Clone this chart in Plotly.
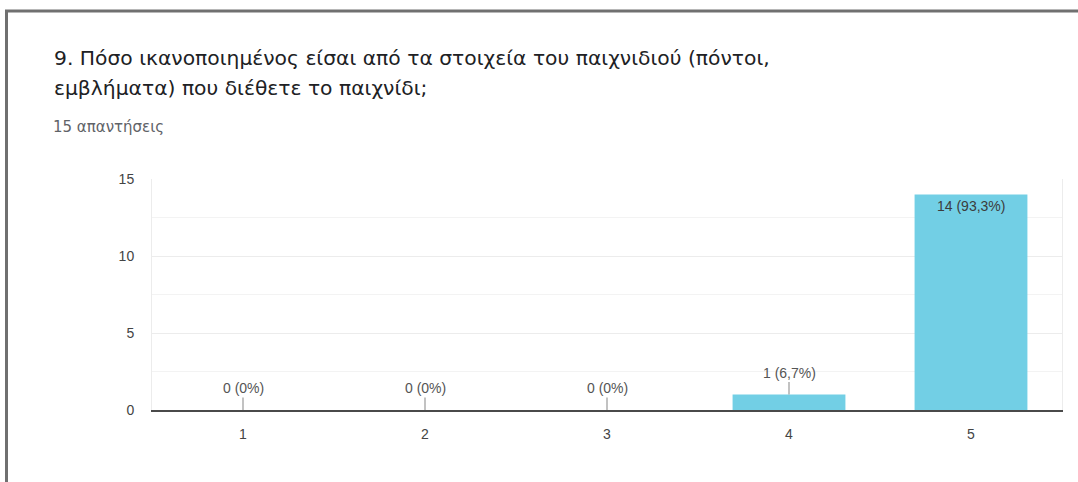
import plotly.graph_objects as go

categories = ["1", "2", "3", "4", "5"]
counts = [0, 0, 0, 1, 14]
labels = ["0 (0%)", "0 (0%)", "0 (0%)", "1 (6,7%)", "14 (93,3%)"]
title_line1 = "9. Πόσο ικανοποιημένος είσαι από τα στοιχεία του παιχνιδιού (πόντοι,"
title_line2 = "εμβλήματα) που διέθετε το παιχνίδι;"
subtitle = "15 απαντήσεις"
y_ticks = [0, 5, 10, 15]

W, H = 1078, 482
ML, MR, MT, MB = 152, 16, 179, 72
PW = W - ML - MR
PH = H - MT - MB

def px_x(px):
    return (px - ML) / PW

def px_y(py):
    return (H - MB - py) / PH

TFONT = "DejaVu Sans"
FONT = "Liberation Sans"
BAR = "#72cfe5"

fig = go.Figure(go.Bar(x=categories, y=counts, marker=dict(color=BAR, line=dict(width=0)),
                       width=0.62, hoverinfo="skip"))

annotations = []
top = max(counts)
for i, (v, lab) in enumerate(zip(counts, labels)):
    if v == top:
        annotations.append(dict(x=i, y=v, xref="x", yref="y", text=lab, showarrow=False,
                                yshift=-12, font=dict(family=FONT, size=14, color="#3c3c3c")))
    else:
        annotations.append(dict(x=i, y=v, xref="x", yref="y", text=lab, showarrow=True,
                                arrowhead=0, arrowwidth=1.2, arrowcolor="#9a9a9a", ax=0, ay=-22,
                                font=dict(family=FONT, size=14, color="#555555")))

annotations += [
    dict(x=px_x(52), y=px_y(58), xref="paper", yref="paper", xanchor="left", yanchor="middle",
         text=title_line1, showarrow=False, font=dict(family=TFONT, size=20.3, color="#202124")),
    dict(x=px_x(52), y=px_y(88), xref="paper", yref="paper", xanchor="left", yanchor="middle",
         text=title_line2, showarrow=False, font=dict(family=TFONT, size=20.3, color="#202124")),
    dict(x=px_x(51), y=px_y(127), xref="paper", yref="paper", xanchor="left", yanchor="middle",
         text=subtitle, showarrow=False, font=dict(family=TFONT, size=15, color="#5f6368")),
]

fig.update_layout(
    width=W, height=H,
    margin=dict(l=ML, r=MR, t=MT, b=MB),
    paper_bgcolor="white", plot_bgcolor="white",
    showlegend=False,
    annotations=annotations,
    shapes=[dict(type="rect", xref="paper", yref="paper",
                 x0=px_x(6.5), x1=px_x(1090), y0=px_y(500), y1=px_y(11),
                 line=dict(color="#707070", width=3), layer="above")],
    xaxis=dict(type="category", showgrid=False, ticks="", zeroline=False,
               showline=True, linecolor="#4a4a4a", linewidth=1.5,
               tickfont=dict(family=FONT, size=14, color="#444444"), ticklabelstandoff=10),
    yaxis=dict(range=[0, 15], tickvals=y_ticks, showgrid=True, gridcolor="#ececec",
               minor=dict(dtick=2.5, showgrid=True, gridcolor="#f3f3f3"),
               zeroline=False, showline=True, linecolor="#ececec", mirror=True,
               tickfont=dict(family=FONT, size=14, color="#444444"), ticklabelstandoff=14),
    bargap=0.38,
)

fig.write_html("out.html", config={"displayModeBar": False},
               post_script="document.body.style.margin='0';")
